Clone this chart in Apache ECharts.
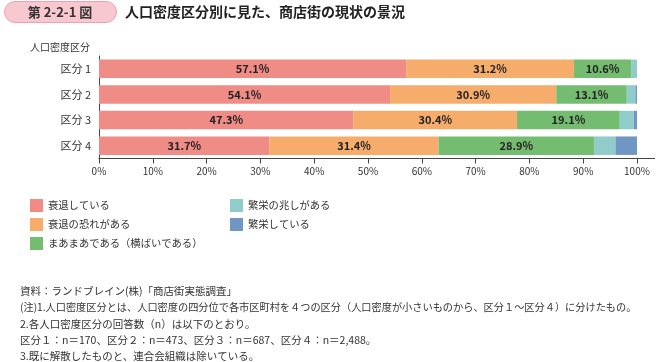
<!DOCTYPE html>
<html><head><meta charset="utf-8">
<script src="https://cdn.jsdelivr.net/npm/echarts@6/dist/echarts.min.js"></script>
<style>html,body{margin:0;padding:0;background:#fff}#c{width:664px;height:362px}</style>
</head><body><div id="c"></div>
<script>
const categories = ['区分 1','区分 2','区分 3','区分 4'];
const seriesNames = ['衰退している','衰退の恐れがある','まあまあである（横ばいである）','繁栄の兆しがある','繁栄している'];
const decline = [57.1, 54.1, 47.3, 31.7];
const declineRisk = [31.2, 30.9, 30.4, 31.4];
const flat = [10.6, 13.1, 19.1, 28.9];
const prosperSign = [1.1, 1.6, 2.6, 4.0];
const prosper = [0.0, 0.3, 0.6, 4.0];
const xTicks = [0,10,20,30,40,50,60,70,80,90,100];
const colors = ['#F08C86','#F6AD6C','#74BC70','#8FCCCA','#7096C3'];
const FONT = '"Noto Sans CJK JP","Noto Sans",sans-serif';

const vals = [decline, declineRisk, flat, prosperSign, prosper];
const chart = echarts.init(document.getElementById('c'), null, {renderer:'canvas'});
const series = vals.map((v,i)=>({
  name: seriesNames[i], type:'bar', stack:'s', barWidth:'72%',
  data: v,
  itemStyle:{color:colors[i]},
  label:{show: i<3, position:'inside', color:'#222', fontWeight:'bold', fontSize:11, fontFamily:FONT,
    formatter: p=>p.value.toFixed(1)+'%'}
}));
const legendText = {color:'#333', fontSize:10.3, fontFamily:FONT};
chart.setOption({
  animation:false,
  color: colors,
  textStyle:{fontFamily:FONT},
  grid:{left:99, right:27, top:56, bottom:203.5},
  xAxis:{type:'value', min:0, max:100, interval:10,
    axisLine:{show:true, lineStyle:{color:'#444'}},
    axisTick:{show:true, length:5, lineStyle:{color:'#444'}},
    splitLine:{show:false},
    axisLabel:{color:'#333', fontSize:10, margin:8, fontFamily:FONT, formatter:v=>v+'%'}
  },
  yAxis:{type:'category', data:categories, inverse:true,
    axisLine:{show:true, lineStyle:{color:'#444'}},
    axisTick:{show:false},
    axisLabel:{color:'#333', fontSize:11, margin:8, fontFamily:FONT}
  },
  legend:[
    {left:25, top:194, orient:'vertical', itemWidth:13, itemHeight:13, itemGap:6, icon:'rect',
      textStyle:legendText, data:seriesNames.slice(0,3)},
    {left:225, top:194, orient:'vertical', itemWidth:13, itemHeight:13, itemGap:6, icon:'rect',
      textStyle:legendText, data:seriesNames.slice(3)}
  ],
  series: series,
  graphic:[
    {type:'rect', shape:{x:4.5, y:1.5, width:112, height:21, r:10.5},
      style:{fill:'#F7C8D0', stroke:'#EBA3B1', lineWidth:1}},
    {type:'text', x:60, y:12, style:{text:'第 2-2-1 図', fill:'#333', font:'bold 13px '+FONT, align:'center', verticalAlign:'middle'}},
    {type:'text', x:125, y:12, style:{text:'人口密度区分別に見た、商店街の現状の景況', fill:'#222', font:'bold 14px '+FONT, verticalAlign:'middle'}},
    {type:'text', x:30, y:47, style:{text:'人口密度区分', fill:'#333', font:'10px '+FONT, verticalAlign:'middle'}},
    {type:'line', shape:{x1:637, y1:158.5, x2:655, y2:158.5}, style:{stroke:'#444', lineWidth:1}},
    {type:'text', x:20, y:291, style:{text:'資料：ランドブレイン(株)「商店街実態調査」', fill:'#333', font:'10.5px '+FONT, verticalAlign:'middle'}},
    {type:'text', x:20, y:307.5, style:{text:'(注)1.人口密度区分とは、人口密度の四分位で各市区町村を４つの区分（人口密度が小さいものから、区分１～区分４）に分けたもの。', fill:'#333', font:'10.2px '+FONT, verticalAlign:'middle'}},
    {type:'text', x:20, y:324, style:{text:'2.各人口密度区分の回答数（n）は以下のとおり。', fill:'#333', font:'10.5px '+FONT, verticalAlign:'middle'}},
    {type:'text', x:20, y:340, style:{text:'区分１：n＝170、区分２：n＝473、区分３：n＝687、区分４：n＝2,488。', fill:'#333', font:'10.5px '+FONT, verticalAlign:'middle'}},
    {type:'text', x:20, y:356, style:{text:'3.既に解散したものと、連合会組織は除いている。', fill:'#333', font:'10.5px '+FONT, verticalAlign:'middle'}}
  ]
});
</script></body></html>
